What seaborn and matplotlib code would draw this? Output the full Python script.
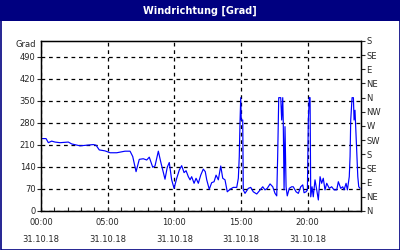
import numpy as np
import pandas as pd
import matplotlib
matplotlib.use("Agg")
import matplotlib.pyplot as plt
from matplotlib.patches import Rectangle
from matplotlib.ticker import MultipleLocator, FixedLocator
import seaborn as sns

# ---- data (hours since 00:00 on 31.10.18, wind direction in degrees) ----
hours = [0.05, 0.38, 0.55, 0.8, 1.05, 1.43, 2.05, 2.3, 2.93, 3.43, 3.92, 4.13, 4.37, 4.8,
         5.18, 5.68, 6.3, 6.68, 6.88, 7.13, 7.37, 7.67, 7.93, 8.12, 8.38, 8.55, 8.8, 8.98,
         9.3, 9.47, 9.62, 9.8, 9.98, 10.18, 10.37, 10.55, 10.73, 10.88, 11.05, 11.18, 11.3,
         11.48, 11.63, 11.8, 11.98, 12.17, 12.32, 12.43, 12.62, 12.8, 12.98, 13.13, 13.3,
         13.48, 13.63, 13.8, 13.97, 14.18, 14.42, 14.68, 14.8, 14.87, 14.93, 14.98, 15.02,
         15.13, 15.17, 15.3, 15.55, 15.73, 15.92, 16.18, 16.43, 16.63, 16.8, 16.97, 17.18,
         17.38, 17.55, 17.68, 17.75, 17.83, 17.98, 18.05, 18.13, 18.17, 18.23, 18.3, 18.38,
         18.47, 18.62, 18.8, 18.92, 19.13, 19.3, 19.48, 19.63, 19.73, 19.88, 19.98, 20.05,
         20.12, 20.18, 20.23, 20.33, 20.42, 20.55, 20.68, 20.8, 20.93, 21.05, 21.17, 21.3,
         21.43, 21.62, 21.8, 21.98, 22.18, 22.3, 22.48, 22.63, 22.73, 22.88, 22.98, 23.12,
         23.18, 23.23, 23.33, 23.43, 23.48, 23.55, 23.68, 23.76, 23.83, 23.93]
direction = [230, 230, 217, 222, 219, 217, 219, 213, 207, 209, 211, 209, 194, 191,
             185, 185, 190, 190, 173, 125, 164, 166, 162, 171, 139, 143, 190, 156,
             101, 139, 154, 99, 72, 104, 130, 144, 122, 128, 109, 99, 109,
             88, 104, 88, 114, 133, 125, 99, 69, 90, 93, 114, 99,
             143, 104, 99, 61, 69, 75, 75, 104, 173, 289, 360, 289,
             289, 67, 56, 72, 75, 61, 54, 67, 77, 67, 72, 86,
             77, 56, 48, 173, 360, 360, 289, 360, 279, 67, 268, 77,
             48, 72, 77, 77, 61, 56, 77, 83, 58, 61, 67, 289,
             360, 360, 45, 77, 45, 99, 67, 35, 109, 88, 104, 67,
             88, 72, 77, 67, 67, 93, 72, 77, 67, 88, 67, 109,
             173, 289, 360, 360, 289, 320, 194, 109, 77, 72]

left_ticks = [0, 70, 140, 210, 280, 350, 420, 490]
right_ticks = [0, 45, 90, 135, 180, 225, 270, 315, 360, 405, 450, 495, 540]
right_labels = ["N", "NE", "E", "SE", "S", "SW", "W", "NW", "N", "NE", "E", "SE", "S"]
x_ticks = [0, 5, 10, 15, 20]
x_labels = ["00:00\n31.10.18", "05:00\n31.10.18", "10:00\n31.10.18",
            "15:00\n31.10.18", "20:00\n31.10.18"]
title = "Windrichtung [Grad]"
unit = "Grad"

sns.set_style("white")
plt.rcParams["font.family"] = ["DejaVu Sans"]
FS = 6

df = pd.DataFrame({"h": hours, "deg": direction})

fig = plt.figure(figsize=(4, 2.5), dpi=100)
fig.patch.set_facecolor("white")
navy = "#000080"
# title bar and frame
fig.patches.append(Rectangle((0, 1 - 21 / 250), 1, 21 / 250, transform=fig.transFigure,
                             facecolor=navy, edgecolor="none", zorder=0))
fig.patches.append(Rectangle((0.5 / 400, 0.5 / 250), 1 - 1 / 400, 1 - 1 / 250,
                             transform=fig.transFigure, facecolor="none",
                             edgecolor=navy, linewidth=1.2, zorder=5))
fig.text(0.5, 1 - 10.5 / 250, title, color="white", fontsize=7, fontweight="bold",
         ha="center", va="center")

ax = fig.add_axes([41 / 400, 39 / 250, 320 / 400, 170 / 250])
sns.lineplot(data=df, x="h", y="deg", ax=ax, color="#0000ff", linewidth=0.85)
ax.set_xlim(0, 24)
ax.set_ylim(0, 540)
ax.set_xlabel("")
ax.set_ylabel("")

for s in ax.spines.values():
    s.set_color("black")
    s.set_linewidth(1.0)

ax.yaxis.set_major_locator(FixedLocator(left_ticks))
ax.set_yticklabels([str(v) for v in left_ticks], fontsize=FS)
ax.tick_params(axis="y", direction="out", length=3, width=0.8, pad=1, left=True)
ax.set_xticks(x_ticks)
ax.set_xticklabels(x_labels, fontsize=FS, linespacing=2.2)
ax.xaxis.set_minor_locator(MultipleLocator(1))
ax.tick_params(axis="x", which="both", direction="in", length=3, width=0.8, pad=5,
               bottom=True)

ax.grid(True, axis="both", which="major", color="black", linestyle=(0, (3, 3)),
        linewidth=0.9)
ax.set_axisbelow(True)

ax.text(-0.015, 528, unit, transform=ax.get_yaxis_transform(), ha="right",
        va="center", fontsize=FS)

ax2 = ax.twinx()
ax2.set_ylim(0, 540)
ax2.set_yticks(right_ticks)
ax2.set_yticklabels(right_labels, fontsize=FS)
ax2.tick_params(axis="y", direction="out", length=3, width=0.8, pad=1, right=True)
ax2.grid(False)
for s in ax2.spines.values():
    s.set_color("black")

fig.savefig("out.png", dpi=100)
